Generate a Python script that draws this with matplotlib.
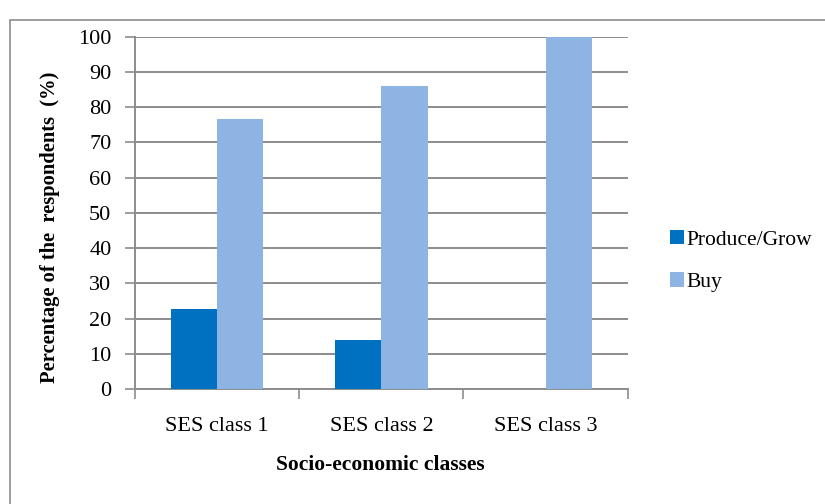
import matplotlib
matplotlib.use("Agg")
import matplotlib.pyplot as plt
import matplotlib.patches as mpatches
import numpy as np

categories = ["SES class 1", "SES class 2", "SES class 3"]
produce_grow = [22.7, 14.0, 0.0]
buy = [76.7, 86.0, 100.0]
series_names = ["Produce/Grow", "Buy"]
y_ticks = list(range(0, 101, 10))

plt.rcParams["font.family"] = ["Liberation Serif", "DejaVu Serif"]

fig = plt.figure(figsize=(8.25, 5.04), dpi=100)
ax_left, ax_right, ax_top, ax_bottom = 135, 627.7, 36.7, 389
ax = fig.add_axes([ax_left / 825, 1 - ax_bottom / 504,
                   (ax_right - ax_left) / 825, (ax_bottom - ax_top) / 504])

grid_col = "#8c8c8c"
x = np.arange(len(categories))
w = 0.282
ax.bar(x - w / 2, produce_grow, w, color="#0070C0", label=series_names[0], zorder=3)
ax.bar(x + w / 2, buy, w, color="#8EB4E3", label=series_names[1], zorder=3)

ax.set_xlim(-0.5, len(categories) - 0.5)
ax.set_ylim(0, 100)
ax.set_yticks(y_ticks)
ax.set_xticks(x)
ax.set_xticklabels(categories, fontsize=16)
ax.tick_params(axis="x", length=0, pad=20)
ax.set_xticks(np.arange(-0.5, len(categories), 1.0), minor=True)
ax.tick_params(axis="x", which="minor", length=7, width=1.2, color=grid_col)
ax.tick_params(axis="y", length=7, width=1.2, color=grid_col, labelsize=16, pad=10)

ax.yaxis.grid(True, color=grid_col, linewidth=1.4, zorder=0)
ax.set_axisbelow(True)
for s in ["top", "right"]:
    ax.spines[s].set_visible(False)
for s in ["left", "bottom"]:
    ax.spines[s].set_color(grid_col)
    ax.spines[s].set_linewidth(1.4)

ax.set_ylabel("Percentage of the  respondents  (%)", fontsize=14.8, fontweight="bold")
ax.yaxis.set_label_coords((50 - ax_left) / (ax_right - ax_left),
                          (ax_bottom - 227.5) / (ax_bottom - ax_top))
ax.yaxis.label.set_va("center")
ax.set_xlabel("Socio-economic classes", fontsize=15.5, fontweight="bold")
ax.xaxis.set_label_coords((380 - ax_left) / (ax_right - ax_left),
                          (ax_bottom - 465) / (ax_bottom - ax_top))
ax.xaxis.label.set_va("center")

ax.legend(loc="center left", bbox_to_anchor=(661 / 825, 1 - 261 / 504),
          bbox_transform=fig.transFigure, frameon=False, fontsize=15.5,
          handlelength=0.65, handleheight=0.65, handletextpad=0.12,
          labelspacing=1.05, borderaxespad=0)

frame = mpatches.Rectangle((9.5 / 825, -0.05), 1.0, 1 - 20 / 504 + 0.05,
                           transform=fig.transFigure, fill=False,
                           edgecolor="#8c8c8c", linewidth=1.2, clip_on=False)
fig.patches.append(frame)

fig.savefig("out.png", dpi=100)
